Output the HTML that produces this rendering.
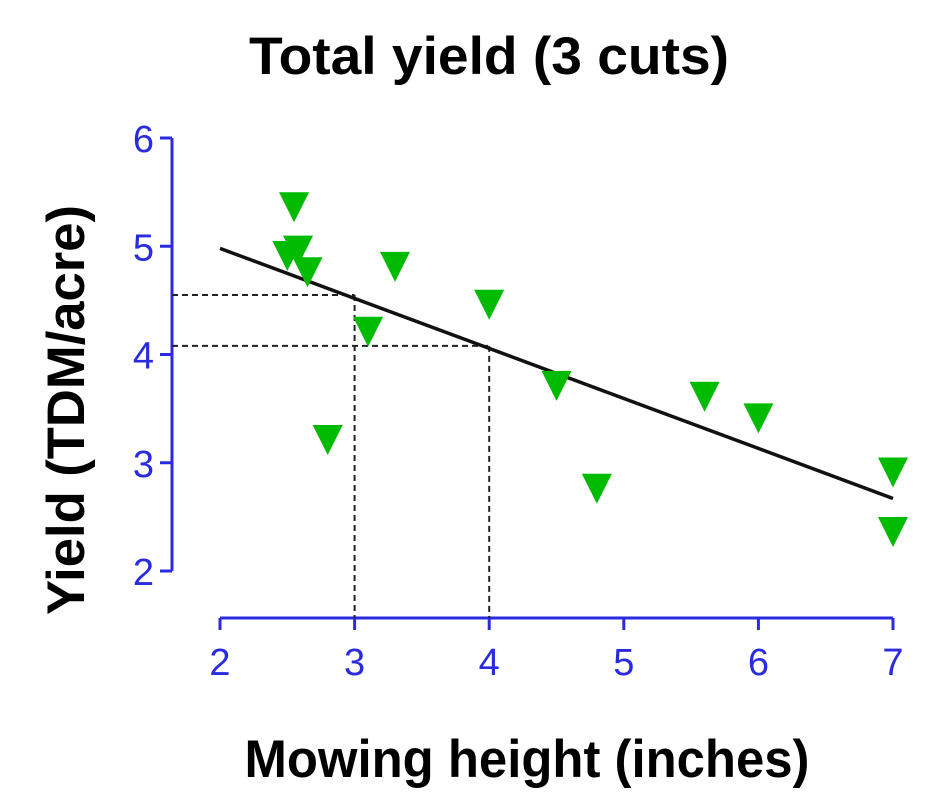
<!DOCTYPE html>
<html><head><meta charset="utf-8"><style>
body{margin:0;background:#fff}
svg{display:block}
</style></head><body>
<svg width="934" height="799" xmlns="http://www.w3.org/2000/svg">
<text x="489" y="74" text-anchor="middle" font-family="Liberation Sans, sans-serif" font-weight="bold" font-size="53" textLength="480" lengthAdjust="spacingAndGlyphs">Total yield (3 cuts)</text>
<text x="527" y="777" text-anchor="middle" font-family="Liberation Sans, sans-serif" font-weight="bold" font-size="53" textLength="565" lengthAdjust="spacingAndGlyphs">Mowing height (inches)</text>
<text transform="translate(84,410) rotate(-90)" text-anchor="middle" font-family="Liberation Sans, sans-serif" font-weight="bold" font-size="53" textLength="410" lengthAdjust="spacingAndGlyphs">Yield (TDM/acre)</text>
<g id="plot"></g>
</svg>
<script>
const xTicks=[2,3,4,5,6,7];
const yTicks=[2,3,4,5,6];
const xs=[2.55,2.5,2.58,2.65,3.3,3.1,2.8,4.0,4.5,4.8,5.6,6.0,7.0,7.0];
const ys=[5.36,4.91,4.96,4.76,4.81,4.21,3.21,4.46,3.71,2.76,3.61,3.41,2.91,2.36];
const fitX=[2,7];
const fitY=[4.98,2.67];
const guideX=[3,4];
const guideY=[4.55,4.08];
const X=v=>220+(v-2)*134.6;
const Y=v=>571-(v-2)*108.25;
const NS='http://www.w3.org/2000/svg';
const g=document.getElementById('plot');
function mk(t,a){const e=document.createElementNS(NS,t);for(const k in a)e.setAttribute(k,a[k]);g.appendChild(e);return e;}
const blue='#2a2ae0';
let e=mk('line',{x1:172,y1:Y(6),x2:172,y2:Y(2),stroke:blue,'stroke-width':3});


e=mk('line',{x1:X(2),y1:618,x2:X(7),y2:618,stroke:blue,'stroke-width':3});


yTicks.forEach(v=>{
 let t=mk('line',{x1:160,y1:Y(v),x2:172,y2:Y(v),stroke:blue,'stroke-width':3});
 
 
 let l=mk('text',{x:154,y:Y(v)+14,'text-anchor':'end','font-family':'Liberation Sans, sans-serif','font-size':38,fill:blue});
 l.textContent=v;
 
 
});
xTicks.forEach(v=>{
 let t=mk('line',{x1:X(v),y1:618,x2:X(v),y2:630,stroke:blue,'stroke-width':3});
 
 
 let l=mk('text',{x:X(v),y:675,'text-anchor':'middle','font-family':'Liberation Sans, sans-serif','font-size':38,fill:blue});
 l.textContent=v;
 
 
});
guideX.forEach((v,i)=>{
 let h=mk('line',{x1:172,y1:Y(guideY[i]),x2:X(v),y2:Y(guideY[i]),stroke:'#222','stroke-width':2,'stroke-dasharray':'6,4'});
 
 
 let vv=mk('line',{x1:X(v),y1:Y(guideY[i]),x2:X(v),y2:618,stroke:'#222','stroke-width':2,'stroke-dasharray':'6,4'});
 
 
});
e=mk('line',{x1:X(fitX[0]),y1:Y(fitY[0]),x2:X(fitX[1]),y2:Y(fitY[1]),stroke:'#111','stroke-width':3.5});


xs.forEach((v,i)=>{
 const cx=X(v),cy=Y(ys[i]);
 let p=mk('polygon',{points:`${cx-15},${cy-15} ${cx+15},${cy-15} ${cx},${cy+15}`,fill:'#00bb00'});
 
 
});
</script>
</body></html>
